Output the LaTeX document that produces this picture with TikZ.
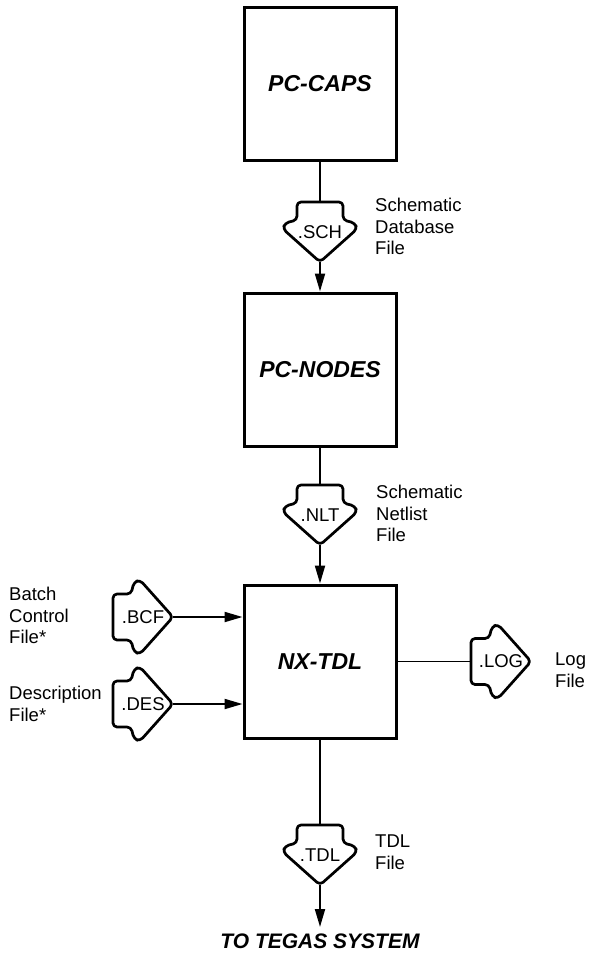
\documentclass[tikz,border=0pt]{standalone}
\usepackage{fontspec}
\setmainfont{Liberation Sans}
\usetikzlibrary{arrows.meta}
\tikzset{
  procbox/.style={draw, line width=3pt, minimum width=152pt, minimum height=153pt, inner sep=0pt,
    font=\fontsize{23}{27}\selectfont\bfseries\itshape},
  fileline/.style={draw, fill=white, line width=2.7pt, rounded corners=4pt, line join=round},
  filetext/.style={inner sep=0pt, font=\fontsize{18.5}{21}\selectfont},
  conn/.style={line width=2pt},
  thinconn/.style={line width=1.4pt},
  arr/.style={-{Triangle[length=18pt,width=10pt]}},
  lbl/.style={anchor=north west, inner sep=0pt, align=left, font=\fontsize{18.5}{21.5}\selectfont},
  filesym/.pic={
    \path[fileline] (0,0) -- (23,0) -- (23,-18) -- (35,-21) -- (37,-27) -- (0,-60) -- (-37,-27) -- (-35,-21) -- (-23,-18) -- (-23,0) -- cycle;
    \node[filetext] (-t) at (0,-30) {#1};
    \coordinate (-in) at (0,0);
    \coordinate (-out) at (0,-60);
  }
}
\begin{document}
\begin{tikzpicture}[x=1pt,y=1pt]
\useasboundingbox (0,0) rectangle (590,-961);

\node[procbox] (caps) at (320,-83.5) {PC-CAPS};
\node[procbox] (nodes) at (320,-369.5) {PC-NODES};
\node[procbox] (nx) at (320,-661.5) {NX-TDL};

\pic (sch) at (320,-202) {filesym=.SCH};
\pic (nlt) at (320,-485) {filesym=.NLT};
\pic (tdl) at (320,-825) {filesym=.TDL};
\pic[rotate=90] (bcf) at (113,-617) {filesym=.BCF};
\pic[rotate=90] (des) at (113,-704) {filesym=.DES};
\pic[rotate=90] (log) at (471,-661.5) {filesym=.LOG};

\coordinate (tegasend) at (320,-927);
\node[inner sep=0pt, font=\fontsize{21}{25}\selectfont\bfseries\itshape] (tegas) at (320,-941) {TO TEGAS SYSTEM};

\draw[conn] (caps) -- (sch-in);
\draw[conn,arr] (sch-out) -- (nodes);
\draw[conn] (nodes) -- (nlt-in);
\draw[conn,arr] (nlt-out) -- (nx);
\draw[conn] (nx) -- (tdl-in);
\draw[conn,arr] (tdl-out) -- (tegasend);
\draw[conn,arr] (bcf-out) -- (bcf-out -| nx.west);
\draw[conn,arr] (des-out) -- (des-out -| nx.west);
\draw[thinconn] (nx.east |- log-in) -- (log-in);

\node[lbl] (l1) at (375,-198) {Schematic\\Database\\File};
\node[lbl] (l2) at (376,-485) {Schematic\\Netlist\\File};
\node[lbl] (l3) at (9,-587) {Batch\\Control\\File*};
\node[lbl] (l4) at (9,-686) {Description\\File*};
\node[lbl] (l5) at (555,-653) {Log\\File};
\node[lbl] (l6) at (375,-835) {TDL\\File};
\end{tikzpicture}
\end{document}
